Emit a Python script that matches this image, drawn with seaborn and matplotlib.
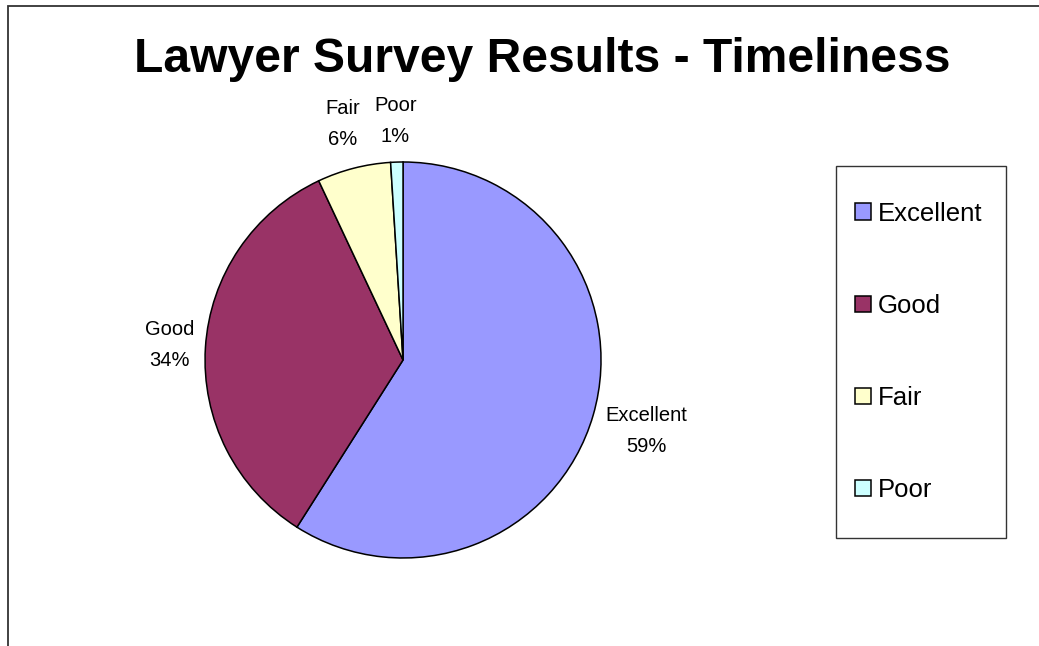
import numpy as np
import matplotlib
matplotlib.use("Agg")
import matplotlib.pyplot as plt
from matplotlib.patches import Rectangle
import seaborn as sns

# survey data
categories = ["Excellent", "Good", "Fair", "Poor"]
shares = [59, 34, 6, 1]
colors = ["#9999FF", "#993366", "#FFFFCC", "#CCFFFF"]
title = "Lawyer Survey Results - Timeliness"

sns.set_theme(style="white")
plt.rcParams["font.family"] = ["Liberation Sans", "DejaVu Sans"]

fig = plt.figure(figsize=(10.39, 6.46), dpi=100)
fig.patch.set_facecolor("white")

# outer chart border (only left/top visible in the crop)
fig.add_artist(Rectangle((7.5 / 1039, -0.1), 1.2, (646 - 6) / 646 + 0.1,
                         transform=fig.transFigure, fill=False,
                         edgecolor="#333333", linewidth=1.3))

ax = fig.add_axes([0.1497, 0.0596, 0.4764, 0.7663])
labels = [f"{c}\n{v}%" for c, v in zip(categories, shares)]
wedges, texts = ax.pie(shares, colors=colors, labels=labels, startangle=90,
                       counterclock=False, labeldistance=1.23,
                       wedgeprops=dict(edgecolor="black", linewidth=1.1),
                       textprops=dict(fontsize=14.5, color="black", linespacing=1.8))
ax.set_xlim(-1.25, 1.25)
ax.set_ylim(-1.25, 1.25)
ax.set_aspect("equal")
ax.axis("off")

label_dist = [1.28, 1.18, 1.23, 1.21]
for w, t, d in zip(wedges, texts, label_dist):
    ang = np.deg2rad((w.theta1 + w.theta2) / 2)
    t.set_position((np.cos(ang) * d, np.sin(ang) * d))
    t.set_ha("center")
    t.set_va("center")

fig.text(542 / 1039, (646 - 72) / 646, title, ha="center", va="baseline",
         fontsize=34.6, fontweight="bold", color="black")

# legend box
fig.add_artist(Rectangle((836 / 1039, (646 - 538) / 646), 170 / 1039, 372 / 646,
                         transform=fig.transFigure, fill=False,
                         edgecolor="#333333", linewidth=1.0))
fig.legend(wedges, categories, loc="center left",
           bbox_to_anchor=(855 / 1039, (646 - 352) / 646),
           frameon=False, fontsize=18.5, borderpad=0, borderaxespad=0,
           labelspacing=2.65, handlelength=0.62, handleheight=0.62,
           handletextpad=0.27, labelcolor="black")

fig.savefig("out.png", dpi=100, facecolor="white")
